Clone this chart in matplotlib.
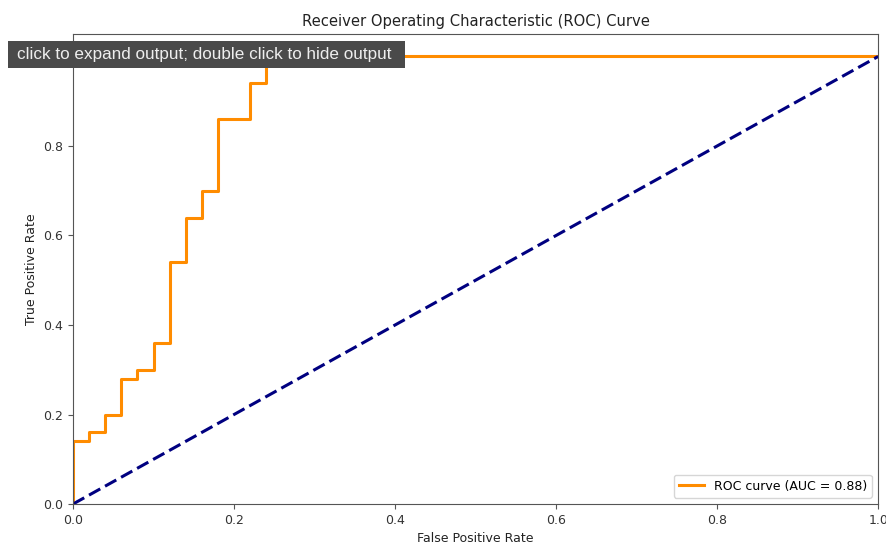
import matplotlib
matplotlib.use("Agg")
import matplotlib.pyplot as plt
from matplotlib.patches import Rectangle

# ROC corner points (FPR, TPR)
fpr = [0.0, 0.0, 0.02, 0.02, 0.04, 0.04, 0.06, 0.06, 0.08, 0.08, 0.10, 0.10,
       0.12, 0.12, 0.14, 0.14, 0.16, 0.16, 0.18, 0.18, 0.22, 0.22, 0.24, 0.24, 1.0]
tpr = [0.0, 0.14, 0.14, 0.16, 0.16, 0.20, 0.20, 0.28, 0.28, 0.30, 0.30, 0.36,
       0.36, 0.54, 0.54, 0.64, 0.64, 0.70, 0.70, 0.86, 0.86, 0.94, 0.94, 1.0, 1.0]
roc_auc = 0.88
diag = [0.0, 1.0]

W, H = 887, 550
fs = 9
fig = plt.figure(figsize=(8.87, 5.5), dpi=100)
ax = fig.add_axes([0.0823, 0.0836, 0.9077, 0.8544])

ax.plot(fpr, tpr, color="darkorange", lw=2.2, label=f"ROC curve (AUC = {roc_auc:.2f})")
ax.plot(diag, diag, color="navy", lw=2.2, linestyle="--", dashes=(4.2, 1.8))
ax.set_xlim([0.0, 1.0])
ax.set_ylim([0.0, 1.05])
ax.set_xlabel("False Positive Rate", fontsize=fs, color="#222222")
ax.set_ylabel("True Positive Rate", fontsize=fs, color="#222222")
ax.set_title("Receiver Operating Characteristic (ROC) Curve", fontsize=10.6, color="#222222")
ax.tick_params(labelsize=fs, labelcolor="#333333", color="#555555")
for s in ax.spines.values():
    s.set_color("#555555")
ax.legend(loc="lower right", fontsize=fs)

# notebook tooltip overlay
fig.patches.append(Rectangle((8 / W, 1 - 68 / H), 397 / W, 27 / H,
                             transform=fig.transFigure, fc="#4a4a4a", ec="none",
                             zorder=9))
fig.text(17 / W, 1 - 54.5 / H, "click to expand output; double click to hide output",
         fontsize=12.3, color="#eeeeee", va="center", ha="left",
         family="Liberation Sans", zorder=10)

fig.savefig("out.png", dpi=100)
